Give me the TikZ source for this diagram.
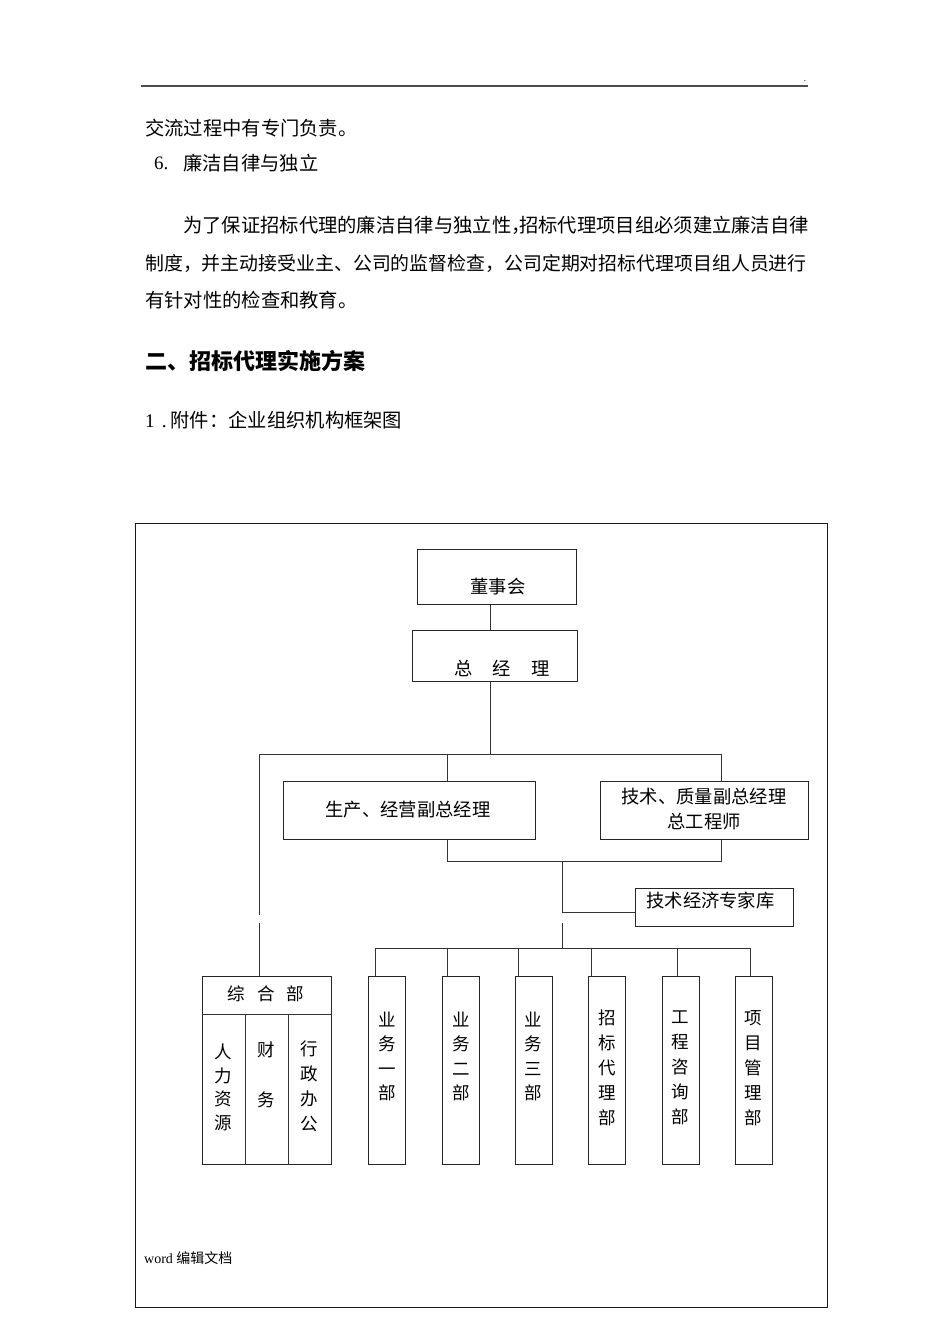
\documentclass[tikz,border=0pt]{standalone}
\usepackage{fontspec}
\setmainfont{Liberation Serif}
\newfontfamily\cjk{Noto Sans CJK SC}
\newcommand{\bodyf}{\cjk\fontsize{19.3}{24}\selectfont}
\newcommand{\chartf}{\cjk\fontsize{18.3}{24}\selectfont}
\newcommand{\colf}{\cjk\fontsize{17.5}{24.5}\selectfont}
\tikzset{
  box/.style={draw=black!85, line width=1pt, inner sep=0pt},
  ln/.style={draw=black!80, line width=1pt},
  txt/.style={inner sep=0pt, font=\bodyf},
  ctxt/.style={inner sep=0pt, font=\chartf},
  coltxt/.style={inner sep=0pt, align=center, font=\colf},
}
\begin{document}
\begin{tikzpicture}[x=1pt,y=-1pt]
\useasboundingbox (0,0) rectangle (950,1344);
\fill[white] (0,0) rectangle (950,1344);

% header
\coordinate (hl) at (141,86);
\coordinate (hr) at (808,86);
\draw[draw=black!70, line width=1.6pt] (hl) -- (hr);
\node[inner sep=0pt, font=\fontsize{9}{10}\selectfont] (dot) at (805,81) {.};

% body text
\node[txt, anchor=west] (t1) at (145,128) {交流过程中有专门负责。};
\node[inner sep=0pt, anchor=west, font=\fontsize{19}{24}\selectfont] (t2a) at (154,163) {6.};
\node[txt, anchor=west] (t2b) at (183,163) {廉洁自律与独立};
\node[txt, anchor=west] (t3) at (183,225) {为了保证招标代理的廉洁自律与独立性\makebox[8pt][l]{，}招标代理项目组必须建立廉洁自律};
\node[txt, anchor=west, font=\cjk\fontsize{18.9}{24}\selectfont] (t4) at (145,264) {制度，并主动接受业主、公司的监督检查，公司定期对招标代理项目组人员进行};
\node[txt, anchor=west] (t5) at (145,300) {有针对性的检查和教育。};
\node[inner sep=0pt, anchor=west, font=\cjk\bfseries\fontsize{22}{26}\selectfont] (t6) at (145,361) {二、招标代理实施方案};
\node[txt, anchor=west] (t7) at (145,420) {{\rmfamily 1\hspace{7pt}.}\hspace{4pt}附件：企业组织机构框架图};

% frame
\node[box, draw=black!90, minimum width=692, minimum height=784] (frame) at (481,915) {};

% top boxes
\node[box, minimum width=159, minimum height=55] (dsh) at (496.5,576.5) {};
\node[ctxt] (dsht) at (498,587) {董事会};
\node[box, minimum width=165, minimum height=51] (zjl) at (494.5,655.5) {};
\node[ctxt] (zjlt) at (502,668) {总\hspace{20pt}经\hspace{20pt}理};

\node[box, minimum width=252, minimum height=58] (scj) at (409,810) {};
\node[ctxt] (scjt) at (408,810) {生产、经营副总经理};
\node[box, minimum width=208, minimum height=58] (jsz) at (704,810) {};
\node[ctxt] (jszt1) at (704,797) {技术、质量副总经理};
\node[ctxt] (jszt2) at (704,822) {总工程师};

\node[box, minimum width=158, minimum height=38] (zjk) at (714,907) {};
\node[ctxt] (zjkt) at (710.5,901) {技术经济专家库};

% bottom boxes
\node[box, minimum width=129, minimum height=188] (zhb) at (266.5,1070) {};
\coordinate (zd1) at (202,1014);
\coordinate (zd2) at (331,1014);
\coordinate (zv1) at (245,1014);
\coordinate (zv2) at (288,1014);
\draw[ln] (zd1) -- (zd2);
\draw[ln] (zv1) -- (zv1 |- zhb.south);
\draw[ln] (zv2) -- (zv2 |- zhb.south);
\node[inner sep=0pt, font=\cjk\fontsize{17.5}{24}\selectfont] (zhbt) at (266,994) {综\hspace{12pt}合\hspace{12pt}部};
\node[coltxt, font=\cjk\fontsize{17.5}{23.7}\selectfont] (zc1) at (223,1087.5) {人\\力\\资\\源};
\node[coltxt] (zc2) at (266,1075) {财\\[25pt]务};
\node[coltxt, font=\cjk\fontsize{17.5}{25}\selectfont] (zc3) at (309,1086.5) {行\\政\\办\\公};

\node[box, minimum width=37, minimum height=188] (b1) at (387,1070) {};
\node[box, minimum width=37, minimum height=188] (b2) at (461,1070) {};
\node[box, minimum width=37, minimum height=188] (b3) at (533.5,1070) {};
\node[box, minimum width=37, minimum height=188] (b4) at (607,1070) {};
\node[box, minimum width=37, minimum height=188] (b5) at (680.5,1070) {};
\node[box, minimum width=37, minimum height=188] (b6) at (753.5,1070) {};
\node[coltxt] (b1t) at (387,1056.5) {业\\务\\一\\部};
\node[coltxt] (b2t) at (461,1056.5) {业\\务\\二\\部};
\node[coltxt] (b3t) at (533.5,1056.5) {业\\务\\三\\部};
\node[coltxt, font=\cjk\fontsize{17.5}{25}\selectfont] (b4t) at (607,1068) {招\\标\\代\\理\\部};
\node[coltxt, font=\cjk\fontsize{17.5}{25}\selectfont] (b5t) at (680.5,1068) {工\\程\\咨\\询\\部};
\node[coltxt, font=\cjk\fontsize{17.5}{25}\selectfont] (b6t) at (753.5,1068) {项\\目\\管\\理\\部};

% connectors
\coordinate (bus) at (490,754);
\coordinate (busL) at (259,754);
\coordinate (busR) at (721,754);
\draw[ln] ([xshift=-6.5pt]dsh.south) -- ([xshift=-4.5pt]zjl.north);
\draw[ln] ([xshift=-4.5pt]zjl.south) -- (bus);
\draw[ln] (busL) -- (busR);
\coordinate (gL1) at (259,915);
\coordinate (gL2) at (259,923);
\draw[ln] (busL) -- (gL1);
\draw[ln] (gL2) -- (gL2 |- zhb.north);
\draw[ln] ([xshift=38pt]scj.north) -- ([xshift=38pt]scj.north |- bus);
\draw[ln] ([xshift=17pt]jsz.north) -- (busR);

\coordinate (m1) at (562,861);
\coordinate (m2) at (562,912);
\coordinate (m3) at (562,923);
\coordinate (m4) at (562,948);
\draw[ln] ([xshift=38pt]scj.south) |- (m1) -| ([xshift=17pt]jsz.south);
\draw[ln] (m1) -- (m2) -- (m2 -| zjk.west);
\draw[ln] (m3) -- (m4);

\coordinate (d1) at (375,948);
\coordinate (d2) at (447,948);
\coordinate (d3) at (518,948);
\coordinate (d4) at (591,948);
\coordinate (d5) at (677.5,948);
\coordinate (d6) at (750,948);
\draw[ln] (d1) -- (d6);
\foreach \i in {1,...,6} {
  \draw[ln] (d\i) -- (d\i |- b\i.north);
}

% footer
\node[inner sep=0pt, anchor=west, font=\fontsize{14}{16}\selectfont] (foot) at (144,1258) {word {\cjk 编辑文档}};
\end{tikzpicture}
\end{document}
